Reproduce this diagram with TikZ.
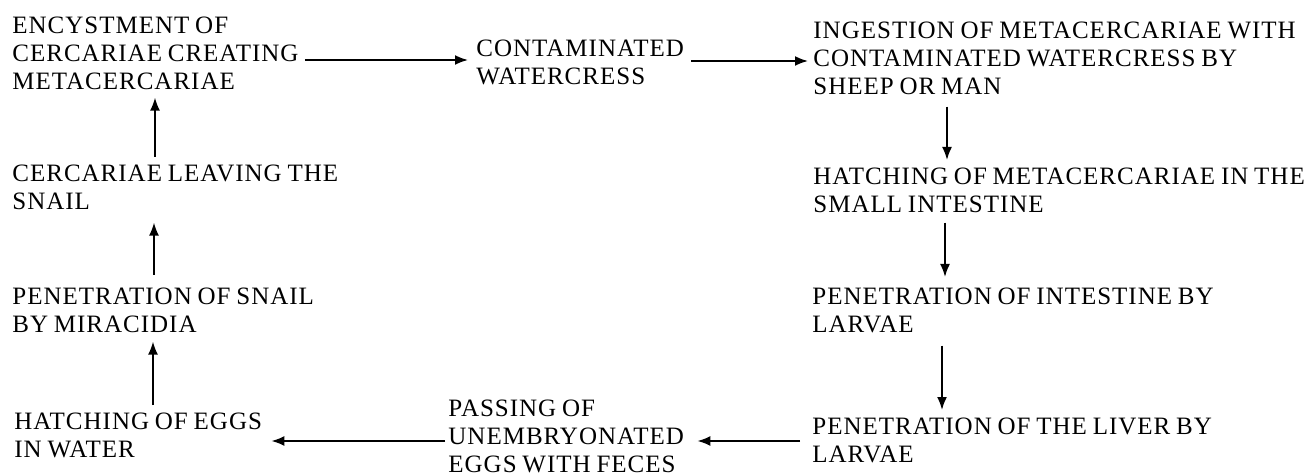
\documentclass[tikz,border=0pt]{standalone}
\usepackage{fontspec}
\setmainfont{Liberation Serif}[LetterSpace=4,WordSpace=0.8]
\usetikzlibrary{arrows.meta,calc}
\begin{document}
\begin{tikzpicture}[x=0.5pt, y=-0.5pt,
    stage/.style={anchor=north west, inner sep=0pt, align=left, font=\fontsize{12.5}{14}\selectfont},
    flow/.style={-{Latex[length=6.5pt,width=5pt]}, line width=0.9pt}]
    \useasboundingbox (0,0) rectangle (1314,476);
    \node [stage] (enc) at (12,17) {ENCYSTMENT OF\\CERCARIAE CREATING\\METACERCARIAE};
    \node [stage] (cont) at (476,40) {CONTAMINATED\\WATERCRESS};
    \node [stage] (ing) at (813,22) {INGESTION OF METACERCARIAE WITH\\CONTAMINATED WATERCRESS BY\\SHEEP OR MAN};
    \node [stage] (hatch) at (813,168) {HATCHING OF METACERCARIAE IN THE\\SMALL INTESTINE};
    \node [stage] (penint) at (812,288) {PENETRATION OF INTESTINE BY\\LARVAE};
    \node [stage] (liver) at (812,418) {PENETRATION OF THE LIVER BY\\LARVAE};
    \node [stage] (pass) at (448,400) {PASSING OF\\UNEMBRYONATED\\EGGS WITH FECES};
    \node [stage] (eggs) at (14,413) {HATCHING OF EGGS\\IN WATER};
    \node [stage] (snail) at (12,288) {PENETRATION OF SNAIL\\BY MIRACIDIA};
    \node [stage] (cerc) at (12,165) {CERCARIAE LEAVING THE\\SNAIL};
    \draw [flow] ($(enc.north east)+(6,43)$) coordinate (ec) -- ($(ec -| cont.west)+(-8,0)$);
    \draw [flow] ($(cont.north east)+(7,21)$) coordinate (ci) -- ($(ci -| ing.west)+(-5,0)$);
    \draw [flow] ($(ing.south west)+(134,11)$) coordinate (ih) -- ($(ih |- hatch.north)+(0,-8)$);
    \draw [flow] ($(hatch.south west)+(132,9)$) coordinate (hp) -- ($(hp |- penint.north)+(0,-11)$);
    \draw [flow] ($(penint.south west)+(130,12)$) coordinate (pl) -- ($(pl |- liver.north)+(0,-8)$);
    \draw [flow] ($(liver.north west)+(-12,23)$) coordinate (lp) -- ($(lp -| pass.east)+(13,0)$);
    \draw [flow] ($(pass.north west)+(-3,41)$) coordinate (pe) -- ($(pe -| eggs.east)+(9,0)$);
    \draw [flow] ($(eggs.north west)+(139,-8)$) coordinate (es) -- ($(es |- snail.south)+(0,8)$);
    \draw [flow] ($(snail.north west)+(142,-13)$) coordinate (sc) -- ($(sc |- cerc.south)+(0,12)$);
    \draw [flow] ($(cerc.north west)+(143,-8)$) coordinate (ce) -- ($(ce |- enc.south)+(0,7)$);
\end{tikzpicture}
\end{document}
